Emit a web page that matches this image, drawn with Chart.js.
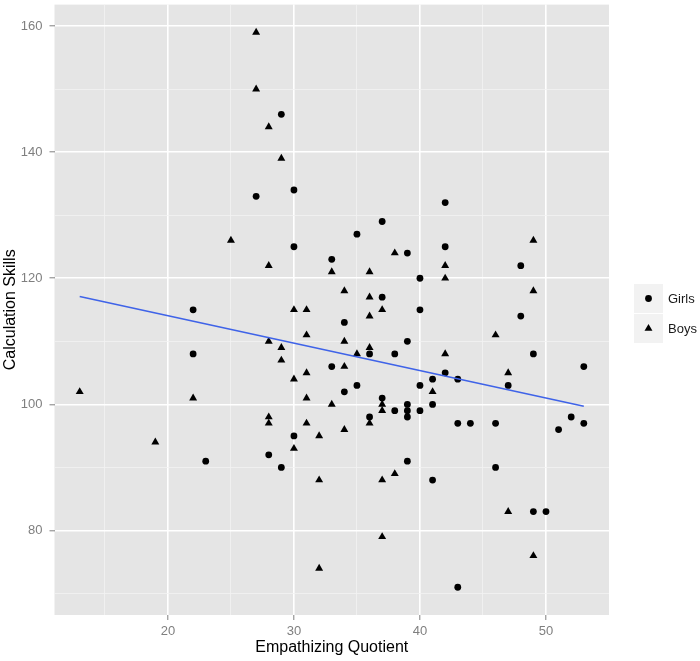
<!DOCTYPE html>
<html>
<head>
<meta charset="utf-8">
<script src="https://cdn.jsdelivr.net/npm/chart.js@4.4.1/dist/chart.umd.min.js"></script>
<style>
  body { margin: 0; background: #fff; }
  #wrap { width: 700px; height: 661px; }
</style>
</head>
<body>
<div id="wrap"><canvas id="scatter-chart" width="700" height="661"></canvas></div>
<script>
// values
const girlsX = [22, 22, 23, 27, 29, 30, 37, 35, 30, 39, 33, 40, 37, 40, 34, 39, 36, 38, 33, 35, 40, 34, 37,
  42, 42, 48, 48, 49, 53, 42, 43, 41, 47, 38, 39, 39, 39, 40, 36, 30, 28, 29, 39, 41, 43, 44, 46, 51, 52, 53,
  46, 41, 49, 50, 43]
const girlsY = [115, 108, 91, 133, 146, 134, 129, 127, 125, 124, 123, 120, 117, 115, 113, 110, 108, 108, 106, 103, 103, 102, 101,
  132, 125, 122, 114, 108, 106, 105, 104, 104, 103, 99, 100, 99, 98, 99, 98, 95, 92, 90, 91, 100, 97, 97, 97, 96, 98, 97,
  90, 88, 83, 83, 71]

const boysX = [13, 19, 22, 25, 27, 27, 28, 29, 28, 38, 33, 36, 34, 36, 30, 31, 37, 36, 31, 28, 34, 29, 36, 29, 35,
  34, 31, 30, 31, 42, 42, 49, 49, 46, 42, 47, 41, 33, 37, 37, 28, 28, 31, 36, 34, 32, 30, 32, 37, 38, 37, 32, 47, 49]
const boysY = [102, 94, 101, 126, 159, 150, 144, 139, 122, 124, 121, 121, 118, 117, 115, 115, 115, 114, 111, 110, 110, 109, 109, 107, 108,
  106, 105, 104, 101, 122, 120, 126, 118, 111, 108, 105, 102, 100, 100, 99, 98, 97, 97, 97, 96, 95, 93, 88, 88, 89, 79, 74, 83, 76]

// fitted line end points
const fitX = [13, 53]
const fitY = [117.1, 99.7]

const xMajor = [20, 30, 40, 50]
const xMinor = [15, 25, 35, 45]
const yMajor = [80, 100, 120, 140, 160]
const yMinor = [70, 90, 110, 130, 150]

const toPoints = (xs, ys) => xs.map((x, i) => ({ x: x, y: ys[i] }))
const withMinor = (major, minor) => major.concat(minor).sort((a, b) => a - b).map(v => ({ value: v }))
const isMajor = (major, v) => major.includes(v)
const noPad = s => { s.paddingTop = 0; s.paddingBottom = 0; s.paddingLeft = 0; s.paddingRight = 0 }

const greyText = '#7f7f7f'
const font = 'Liberation Sans, Arial, sans-serif'

const panelBg = {
  id: 'panelBg',
  beforeDraw(chart) {
    const { ctx, chartArea: a } = chart
    ctx.save()
    ctx.fillStyle = '#e5e5e5'
    ctx.fillRect(a.left, a.top, a.right - a.left, a.bottom - a.top)
    ctx.restore()
  }
}

// ggplot style legend with grey key boxes
const keyLegend = {
  id: 'keyLegend',
  afterDraw(chart) {
    const ctx = chart.ctx
    const sets = chart.data.datasets.filter(d => d.type !== 'line')
    ctx.save()
    sets.forEach((d, i) => {
      const top = 284 + i * 30
      ctx.fillStyle = '#f2f2f2'
      ctx.fillRect(634, top, 29, 29)
      Chart.helpers.drawPoint(ctx, {
        pointStyle: d.pointStyle, radius: d.pointRadius, borderWidth: 0
      }, 648.5, top + 14.5)
      ctx.fillStyle = d.backgroundColor
      ctx.fill()
      ctx.fillStyle = '#1a1a1a'
      ctx.font = '13px ' + font
      ctx.textBaseline = 'middle'
      ctx.fillText(d.label, 668, top + 15)
    })
    ctx.restore()
  }
}

const ctx = document.getElementById('scatter-chart').getContext('2d')
const chart = new Chart(ctx, {
  type: 'scatter',
  plugins: [panelBg, keyLegend],
  data: {
    datasets: [{
      type: 'line',
      label: 'fit',
      data: toPoints(fitX, fitY),
      borderColor: '#3f63e8',
      borderWidth: 1.6,
      pointRadius: 0,
      fill: false,
      order: 0
    }, {
      label: 'Girls',
      data: toPoints(girlsX, girlsY),
      pointStyle: 'circle',
      pointRadius: 3.4,
      backgroundColor: '#000',
      borderColor: '#000',
      borderWidth: 0,
      order: 1
    }, {
      label: 'Boys',
      data: toPoints(boysX, boysY),
      pointStyle: 'triangle',
      pointRadius: 4.6,
      backgroundColor: '#000',
      borderColor: '#000',
      borderWidth: 0,
      order: 2
    }]
  },
  options: {
    responsive: false,
    animation: false,
    devicePixelRatio: 1,
    layout: { padding: { left: 0, right: 91, top: 2.5, bottom: 0 } },
    plugins: {
      legend: { display: false },
      tooltip: { enabled: false }
    },
    scales: {
      x: {
        type: 'linear',
        min: 11,
        max: 55,
        afterBuildTicks: s => { s.ticks = withMinor(xMajor, xMinor) },
        afterFit: s => { s.height = 46; noPad(s) },
        border: { display: false },
        grid: {
          color: c => isMajor(xMajor, c.tick.value) ? '#ffffff' : '#f2f2f2',
          lineWidth: c => isMajor(xMajor, c.tick.value) ? 1.6 : 0.8,
          tickColor: c => isMajor(xMajor, c.tick.value) ? greyText : 'rgba(0,0,0,0)',
          tickLength: 5,
          tickWidth: 1
        },
        ticks: {
          color: greyText,
          font: { family: font, size: 13 },
          padding: 4,
          maxRotation: 0,
          autoSkip: false,
          callback: v => isMajor(xMajor, v) ? String(v) : ''
        },
        title: {
          display: true,
          text: 'Empathizing Quotient',
          color: '#000',
          font: { family: font, size: 16 },
          padding: { top: 0, bottom: 3.4 }
        }
      },
      y: {
        type: 'linear',
        min: 66.6,
        max: 163.4,
        afterBuildTicks: s => { s.ticks = withMinor(yMajor, yMinor) },
        afterFit: s => { s.width = 54.5; noPad(s) },
        border: { display: false },
        grid: {
          color: c => isMajor(yMajor, c.tick.value) ? '#ffffff' : '#f2f2f2',
          lineWidth: c => isMajor(yMajor, c.tick.value) ? 1.6 : 0.8,
          tickColor: c => isMajor(yMajor, c.tick.value) ? greyText : 'rgba(0,0,0,0)',
          tickLength: 5,
          tickWidth: 1
        },
        ticks: {
          color: greyText,
          font: { family: font, size: 13 },
          padding: 7,
          autoSkip: false,
          callback: v => isMajor(yMajor, v) ? String(v) : ''
        },
        title: {
          display: true,
          text: 'Calculation Skills',
          color: '#000',
          font: { family: font, size: 16 },
          padding: { top: 1, bottom: 0 }
        }
      }
    }
  }
})
</script>
</body>
</html>
